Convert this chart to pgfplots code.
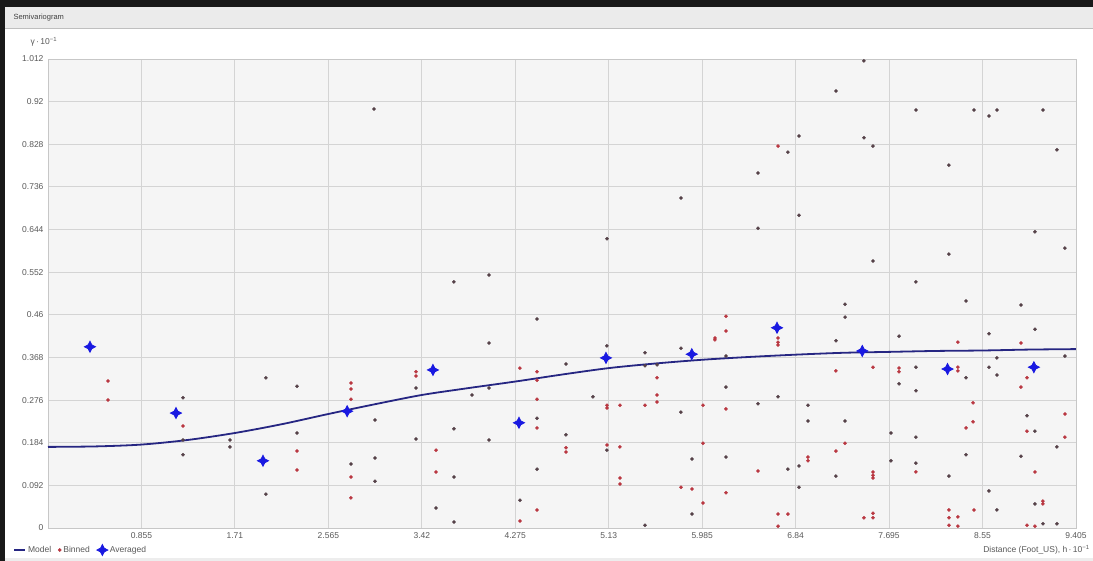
\documentclass[border=0pt]{standalone}
\usepackage{pgfplots}
\pgfplotsset{compat=1.18}
\usepackage{fontspec}
\setmainfont{Liberation Sans}
\definecolor{modelc}{RGB}{38,38,130}
\definecolor{avgc}{RGB}{25,25,225}
\definecolor{binred}{RGB}{185,55,65}
\definecolor{bindark}{RGB}{85,65,72}
\pgfdeclareplotmark{star4}{%
 \pgfpathmoveto{\pgfqpoint{0pt}{\pgfplotmarksize}}%
 \pgfpathlineto{\pgfqpoint{0.34\pgfplotmarksize}{0.34\pgfplotmarksize}}%
 \pgfpathlineto{\pgfqpoint{\pgfplotmarksize}{0pt}}%
 \pgfpathlineto{\pgfqpoint{0.34\pgfplotmarksize}{-0.34\pgfplotmarksize}}%
 \pgfpathlineto{\pgfqpoint{0pt}{-\pgfplotmarksize}}%
 \pgfpathlineto{\pgfqpoint{-0.34\pgfplotmarksize}{-0.34\pgfplotmarksize}}%
 \pgfpathlineto{\pgfqpoint{-\pgfplotmarksize}{0pt}}%
 \pgfpathlineto{\pgfqpoint{-0.34\pgfplotmarksize}{0.34\pgfplotmarksize}}%
 \pgfpathclose\pgfusepathqfillstroke}
\begin{document}
\begin{tikzpicture}
\useasboundingbox (0,0) rectangle (1093pt,561pt);
\fill[white] (0,0) rectangle (1093pt,561pt);
\fill[black!8] (5pt,533pt) rectangle (1093pt,554pt);
\draw[black!25] (5pt,533pt) -- (1093pt,533pt);
\fill[black!90] (0,0) rectangle (5pt,561pt);
\fill[black!90] (0,554pt) rectangle (1093pt,561pt);
\fill[black!7] (5pt,0) rectangle (1093pt,3pt);
\node[anchor=west, font=\fontsize{7.5}{8}\selectfont, text=black!75] at (10pt,543pt) {Semivariogram};
\begin{axis}[
 at={(48pt,33pt)}, anchor=south west,
 scale only axis, width=1028pt, height=469pt,
 xmin=0, xmax=9.405, ymin=0, ymax=1.012,
 clip=false,
 xtick={0,0.855,1.71,2.565,3.42,4.275,5.13,5.985,6.84,7.695,8.55,9.405},
 xticklabels={,0.855,1.71,2.565,3.42,4.275,5.13,5.985,6.84,7.695,8.55,9.405},
 ytick={0,0.092,0.184,0.276,0.368,0.46,0.552,0.644,0.736,0.828,0.92,1.012},
 yticklabels={0,0.092,0.184,0.276,0.368,0.46,0.552,0.644,0.736,0.828,0.92,1.012},
 grid=major, major grid style={draw=black!17, line width=0.9pt},
 axis line style={draw=black!22, line width=0.9pt},
 axis background/.style={fill=black!4},
 major tick length=0pt,
 tick label style={font=\fontsize{8.5}{10}\selectfont, text=black!65},
 xticklabel style={yshift=-1pt},
 yticklabel style={xshift=-1pt},
 xlabel={Distance (Foot\_US), h\,·\,10\textsuperscript{−1}},
 xlabel style={at={(axis description cs:1.0136,-0.047)}, anchor=east, font=\fontsize{8.5}{10}\selectfont, text=black!65, inner sep=0pt},
 ylabel={γ\,·\,10\textsuperscript{−1}},
 ylabel style={rotate=-90, at={(axis description cs:-0.004,1.036)}, anchor=center, font=\fontsize{8.5}{10}\selectfont, text=black!65, inner sep=0pt},
 legend style={at={(axis description cs:-0.034,-0.047)}, anchor=west, draw=none, fill=none,
   font=\fontsize{8.5}{10}\selectfont, text=black!65, inner sep=0pt,
   /tikz/every even column/.append style={column sep=5pt}},
 legend columns=3,
 legend cell align=left,
]
% Model
\addplot[modelc, line width=1.8pt, smooth, legend image code/.code={\draw[modelc, line width=1.8pt] (0pt,0pt) -- (11pt,0pt);}] coordinates {
(0,0.175) (0.43,0.176) (0.855,0.180) (1.28,0.190) (1.71,0.205) (2.14,0.224)
(2.565,0.246) (2.99,0.267) (3.42,0.287) (3.85,0.302) (4.275,0.316) (4.70,0.331)
(5.13,0.345) (5.56,0.355) (5.985,0.363) (6.41,0.369) (6.84,0.374) (7.27,0.378)
(7.695,0.380) (8.12,0.382) (8.55,0.383) (8.98,0.385) (9.405,0.386)};
\addlegendentry{Model}
% Binned (dark)
\addplot[only marks, mark=*, mark size=1.6pt, color=bindark, forget plot] coordinates {
(1.235,0.281) (1.235,0.190) (1.235,0.158) (1.665,0.190) (1.665,0.175) (1.994,0.324)
(1.994,0.073) (2.278,0.306) (2.278,0.205) (2.772,0.138) (2.992,0.233) (2.992,0.151)
(2.992,0.101) (2.983,0.904)
(5.114,0.624) (3.714,0.531) (4.035,0.546) (4.474,0.451) (4.035,0.399) (3.367,0.302)
(4.739,0.354) (5.114,0.393) (5.462,0.378) (5.791,0.388) (5.462,0.350) (5.572,0.352)
(6.203,0.371) (6.203,0.304) (6.203,0.153) (4.986,0.283) (5.791,0.250) (3.879,0.287)
(4.035,0.302) (4.474,0.237) (4.739,0.201) (3.714,0.214) (3.367,0.192) (4.035,0.190)
(3.714,0.110) (4.474,0.127) (5.114,0.168) (5.892,0.149) (5.892,0.030) (3.550,0.043)
(3.714,0.013) (4.318,0.060) (5.462,0.006)
(7.465,1.008) (7.209,0.943) (7.941,0.902) (8.472,0.902) (8.609,0.889) (8.682,0.902)
(9.103,0.902) (6.871,0.846) (6.770,0.811) (7.465,0.842) (7.548,0.824) (6.496,0.766)
(8.243,0.783) (9.231,0.816) (6.871,0.675) (6.496,0.647) (9.030,0.639) (9.304,0.604)
(5.791,0.712)
(7.548,0.576) (8.243,0.591) (7.941,0.531) (8.399,0.490) (8.902,0.481) (7.292,0.483)
(7.292,0.455) (7.786,0.414) (8.609,0.419) (9.030,0.429) (7.209,0.404) (9.304,0.371)
(8.682,0.367) (7.941,0.347) (8.609,0.347) (8.399,0.324) (8.682,0.330) (7.786,0.311)
(7.941,0.296) (6.679,0.283) (6.496,0.268) (6.953,0.265) (6.953,0.231) (7.292,0.231)
(8.957,0.242) (9.030,0.209) (7.712,0.205) (7.941,0.196) (6.871,0.134) (6.770,0.127)
(7.209,0.112) (7.712,0.145) (7.941,0.140) (8.243,0.112) (8.399,0.158) (8.902,0.155)
(9.231,0.175) (6.871,0.088) (8.609,0.080) (8.682,0.039) (9.030,0.052) (9.103,0.009)
(9.231,0.009)};
% Binned (red)
\addplot[only marks, mark=*, mark size=1.6pt, color=binred] coordinates {
(0.549,0.317) (0.549,0.276) (1.235,0.220) (2.278,0.166) (2.278,0.125) (2.772,0.313)
(2.772,0.300) (2.772,0.278) (2.772,0.110) (2.772,0.065)
(3.367,0.337) (3.367,0.328) (4.318,0.345) (4.474,0.337) (4.474,0.319) (5.572,0.324)
(5.572,0.287) (5.572,0.272) (6.102,0.410) (6.102,0.406) (6.203,0.457) (6.203,0.425)
(6.203,0.257) (6.203,0.076) (5.114,0.265) (5.114,0.259) (5.233,0.265) (5.462,0.265)
(5.993,0.265) (4.474,0.278) (4.474,0.216) (4.739,0.173) (4.739,0.164) (3.550,0.168)
(3.550,0.121) (5.114,0.179) (5.233,0.175) (5.233,0.108) (5.233,0.095) (5.993,0.183)
(5.791,0.088) (5.892,0.084) (5.993,0.054) (4.318,0.015) (4.474,0.039)
(6.679,0.824)
(6.679,0.410) (6.679,0.401) (6.679,0.395) (8.325,0.401) (8.902,0.399) (7.209,0.339)
(7.548,0.347) (7.786,0.345) (7.786,0.337) (8.325,0.347) (8.325,0.339) (8.957,0.324)
(8.902,0.304) (8.463,0.270) (8.463,0.229) (8.399,0.216) (8.957,0.209) (9.304,0.246)
(9.304,0.196) (7.292,0.183) (7.209,0.166) (6.953,0.153) (6.953,0.145) (6.496,0.123)
(7.548,0.121) (7.548,0.114) (7.548,0.108) (7.941,0.121) (9.030,0.121) (8.472,0.039)
(6.679,0.030) (6.770,0.030) (6.679,0.004) (7.465,0.022) (7.548,0.032) (7.548,0.022)
(8.243,0.039) (8.243,0.022) (8.325,0.024) (8.243,0.006) (8.325,0.004) (9.103,0.058)
(9.103,0.052) (8.957,0.006) (9.030,0.004)};
\addlegendentry{Binned}
% Averaged
\addplot[only marks, mark=star4, mark size=5.5pt, color=avgc, mark options={line width=0.8pt}] coordinates {
(0.384,0.391) (1.171,0.248) (1.967,0.145) (2.737,0.252) (3.522,0.341) (4.309,0.227)
(5.105,0.367) (5.890,0.375) (6.670,0.432) (7.450,0.382) (8.230,0.343) (9.020,0.347)};
\addlegendentry{Averaged}
\end{axis}
\end{tikzpicture}
\end{document}
